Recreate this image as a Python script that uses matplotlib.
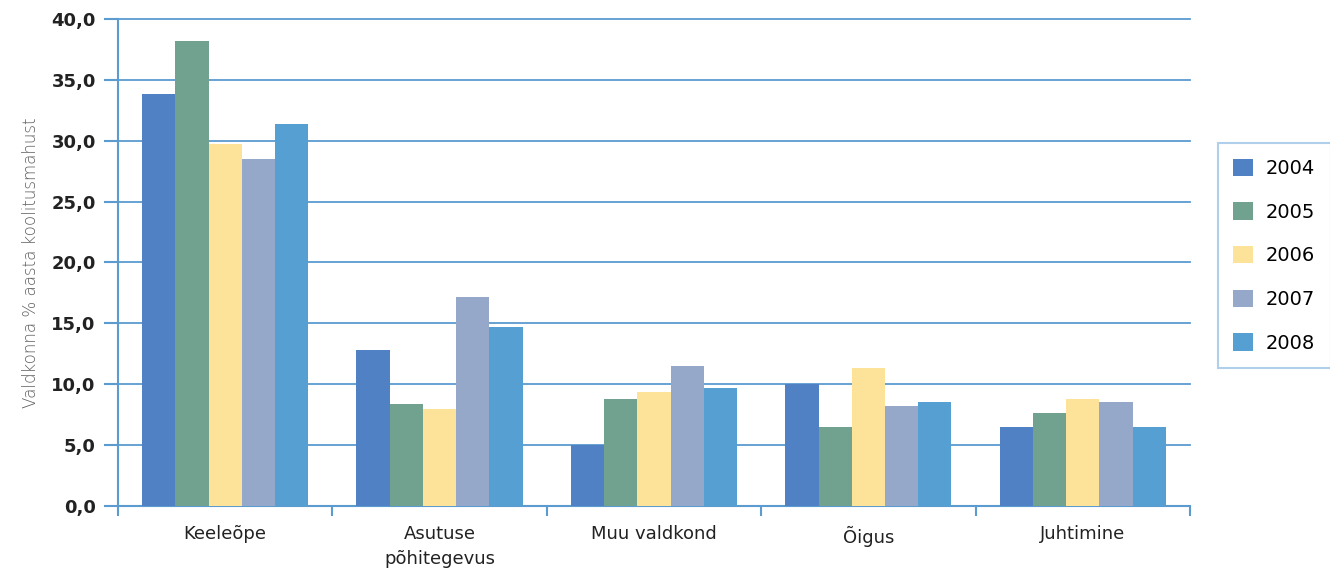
import numpy as np
import matplotlib.pyplot as plt

# --- DATA ---
categories = ["Keeleõpe", "Asutuse\npõhitegevus", "Muu valdkond", "Õigus", "Juhtimine"]
years = ["2004", "2005", "2006", "2007", "2008"]
v2004 = [33.8, 12.8, 5.0, 10.0, 6.5]
v2005 = [38.2, 8.4, 8.8, 6.5, 7.6]
v2006 = [29.7, 8.0, 9.4, 11.3, 8.8]
v2007 = [28.5, 17.2, 11.5, 8.2, 8.5]
v2008 = [31.4, 14.7, 9.7, 8.5, 6.5]
series = [v2004, v2005, v2006, v2007, v2008]
yticks = [0, 5, 10, 15, 20, 25, 30, 35, 40]

colors = ["#4f81c4", "#71a28f", "#fde29a", "#95a8c9", "#559fd3"]
blue = "#5b9bd0"

# --- PLOT ---
fig = plt.figure(figsize=(13.3, 5.7), dpi=100)
ax = fig.add_axes([0.0887, 0.1123, 0.806, 0.8544])

x = np.arange(len(categories))
w = 0.155
for i, (vals, c, yr) in enumerate(zip(series, colors, years)):
    ax.bar(x + (i - 2) * w, vals, width=w, color=c, label=yr, zorder=3)

ax.set_xlim(-0.5, len(categories) - 0.5)
ax.set_ylim(0, 40)
ax.set_yticks(yticks)
ax.set_yticklabels([f"{t:.1f}".replace(".", ",") for t in yticks],
                   fontsize=13, color="#222222", fontweight="semibold")

# category labels between the group separators
ax.set_xticks(x)
ax.set_xticklabels(categories, fontsize=13, color="#222222", linespacing=1.5)
ax.tick_params(axis="x", length=0, pad=14)
ax.set_xticks(np.arange(len(categories) + 1) - 0.5, minor=True)
ax.tick_params(axis="x", which="minor", length=7, width=1.5, color=blue)
ax.tick_params(axis="y", length=10, width=1.5, color=blue, pad=6)

ax.grid(axis="y", color=blue, linewidth=1.3, zorder=0)
for gl in ax.get_ygridlines():
    gl.set_clip_on(False)
for s in ["top", "right"]:
    ax.spines[s].set_visible(False)
for s in ["left", "bottom"]:
    ax.spines[s].set_color(blue)
    ax.spines[s].set_linewidth(1.5)

ax.set_ylabel("Valdkonna % aasta koolitusmahust", fontsize=12, color="#5e5e5e",
              fontweight="light", labelpad=8)

leg = ax.legend(loc="upper left", bbox_to_anchor=(1.026, 0.745), borderaxespad=0,
                fontsize=14, frameon=True, fancybox=False,
                handlelength=1.0, handleheight=1.0,
                labelspacing=1.25, handletextpad=0.67, borderpad=0.8)
leg.get_frame().set_edgecolor("#9dc3e6")
leg.get_frame().set_linewidth(1.5)

plt.savefig("out.png", dpi=100)
